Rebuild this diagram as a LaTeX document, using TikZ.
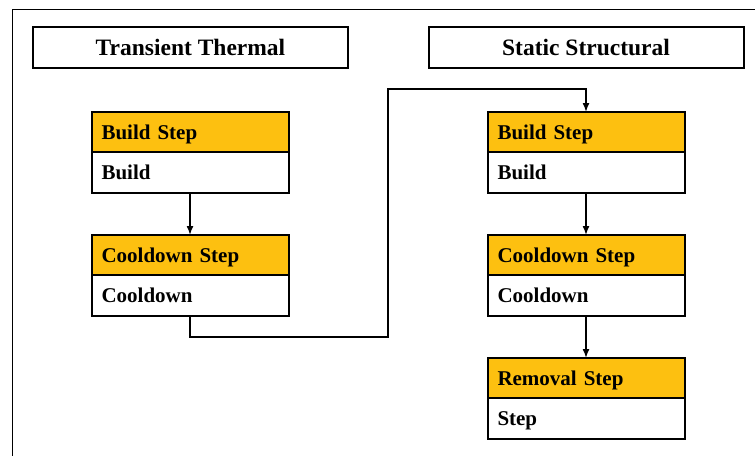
\documentclass[tikz,border=0pt]{standalone}
\usepackage{fontspec}
\setmainfont{Liberation Serif}
\usetikzlibrary{arrows.meta,positioning}
\definecolor{stepgold}{RGB}{253,192,16}

\begin{document}
\begin{tikzpicture}[x=1pt,y=-1pt,
    simtitle/.style={draw,line width=2pt,minimum width=315pt,minimum height=41pt,
        font=\fontsize{23.5}{28}\selectfont\bfseries},
    stephead/.style={draw,line width=2pt,fill=stepgold,outer sep=0pt,
        text width=177pt,inner xsep=10pt,align=left,minimum height=40pt,
        text height=15pt,text depth=1pt,
        font=\fontsize{21}{25}\selectfont\bfseries},
    stepbody/.style={stephead,fill=white,minimum height=41pt},
    flow/.style={line width=1.5pt,-{Latex[length=9pt,width=7pt]}}]
    \useasboundingbox (0,0) rectangle (755,456);
    \draw[line width=1pt] (755,9) -- (12,9) -- (12,456);

    % analysis headers
    \node[simtitle] (thermal) at (190.5,47.5) {Transient Thermal};
    \node[simtitle] (structural) at (586,47.5) {Static Structural};

    % thermal steps
    \node[stephead] (tBuildHead) at (190,132) {Build Step};
    \node[stepbody, below=0pt of tBuildHead] (tBuildBody) {Build};
    \node[stephead] (tCoolHead) at (190,255) {Cooldown Step};
    \node[stepbody, below=0pt of tCoolHead] (tCoolBody) {Cooldown};

    % structural steps
    \node[stephead] (sBuildHead) at (586,132) {Build Step};
    \node[stepbody, below=0pt of sBuildHead] (sBuildBody) {Build};
    \node[stephead] (sCoolHead) at (586,255) {Cooldown Step};
    \node[stepbody, below=0pt of sCoolHead] (sCoolBody) {Cooldown};
    \node[stephead] (sRemHead) at (586,378) {Removal Step};
    \node[stepbody, below=0pt of sRemHead] (sRemBody) {Step};

    \draw[flow] (tBuildBody) -- (tCoolHead);
    \draw[flow] (sBuildBody) -- (sCoolHead);
    \draw[flow] (sCoolBody) -- (sRemHead);

    % hand over from thermal to structural
    \coordinate (jog) at (388,89);
    \draw[flow] (tCoolBody.south) -- ++(0,21) -| (jog) -| (sBuildHead.north);
\end{tikzpicture}
\end{document}
